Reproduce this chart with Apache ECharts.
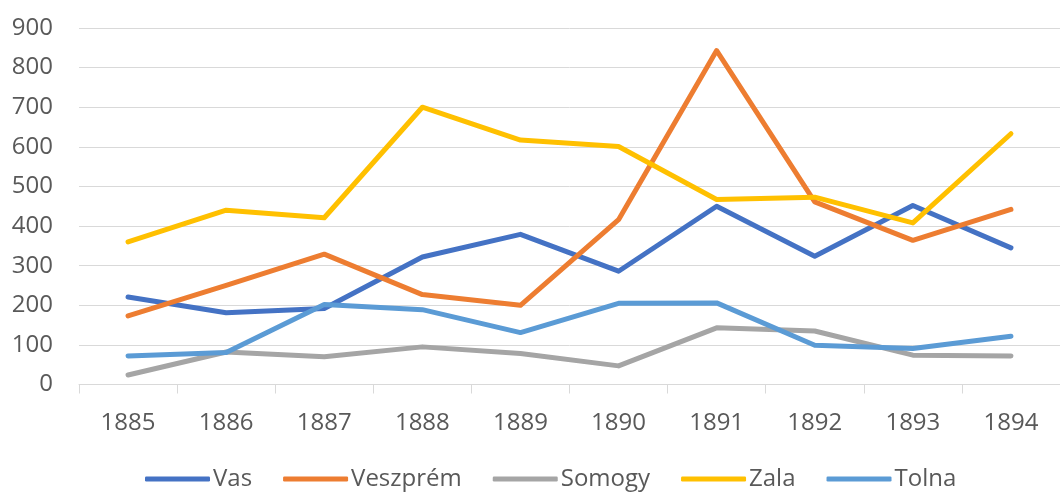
<!DOCTYPE html>
<html>
<head>
<meta charset="utf-8">
<script src="https://cdn.jsdelivr.net/npm/echarts@6/dist/echarts.min.js"></script>
<style>
	html, body { margin: 0; padding: 0; background: #fff; }
	#chart { width: 1060px; height: 493px; }
</style>
</head>
<body>
<div id="chart"></div>
<script>
// evszamok
var years = ['1885', '1886', '1887', '1888', '1889', '1890', '1891', '1892', '1893', '1894'];
var names = ['Vas', 'Veszprém', 'Somogy', 'Zala', 'Tolna'];
var colors = ['#4472C4', '#ED7D31', '#A5A5A5', '#FFC000', '#5B9BD5'];

var vas      = [221, 181, 192, 322, 379, 286, 450, 324, 452, 345];
var veszprem = [173, 250, 329, 227, 200, 416, 843, 461, 364, 442];
var somogy   = [24, 82, 70, 95, 78, 47, 143, 135, 74, 72];
var zala     = [360, 440, 421, 700, 617, 601, 467, 473, 408, 633];
var tolna    = [72, 81, 202, 189, 131, 205, 206, 99, 91, 122];

var yTicks = [0, 100, 200, 300, 400, 500, 600, 700, 800, 900];

var font = '"Open Sans", "Noto Sans", sans-serif';

function mkSeries(name, data, color) {
	return {
		name: name,
		type: 'line',
		data: data,
		symbol: 'none',
		smooth: false,
		lineStyle: { color: color, width: 5, cap: 'round', join: 'round' },
		itemStyle: { color: color }
	};
}

var myChart = echarts.init(document.getElementById('chart'));
var option = {
	animation: false,
	color: colors,
	textStyle: { fontFamily: font },
	grid: {
		left: 79,
		top: 28,
		width: 988,
		height: 356.5
	},
	legend: {
		left: 145,
		top: 467,
		padding: 0,
		itemWidth: 65,
		itemHeight: 5,
		itemGap: 31,
		icon: 'roundRect',
		textStyle: { fontSize: 24, color: '#595959', fontFamily: font, padding: [6, 0, 0, -2] },
		data: names
	},
	xAxis: {
		type: 'category',
		data: years,
		boundaryGap: true,
		axisLine: { lineStyle: { color: '#d9d9d9', width: 1 } },
		axisTick: { show: true, length: 9, lineStyle: { color: '#d9d9d9' } },
		axisLabel: { fontSize: 24, color: '#595959', margin: 27, fontFamily: font }
	},
	yAxis: {
		type: 'value',
		min: yTicks[0],
		max: yTicks[yTicks.length - 1],
		interval: 100,
		axisLine: { show: false },
		axisTick: { show: false },
		splitLine: { lineStyle: { color: '#d9d9d9', width: 1 } },
		axisLabel: { fontSize: 24, color: '#595959', margin: 26, fontFamily: font }
	},
	series: [
		mkSeries(names[0], vas, colors[0]),
		mkSeries(names[1], veszprem, colors[1]),
		mkSeries(names[2], somogy, colors[2]),
		mkSeries(names[3], zala, colors[3]),
		mkSeries(names[4], tolna, colors[4])
	]
};
myChart.setOption(option);
</script>
</body>
</html>
